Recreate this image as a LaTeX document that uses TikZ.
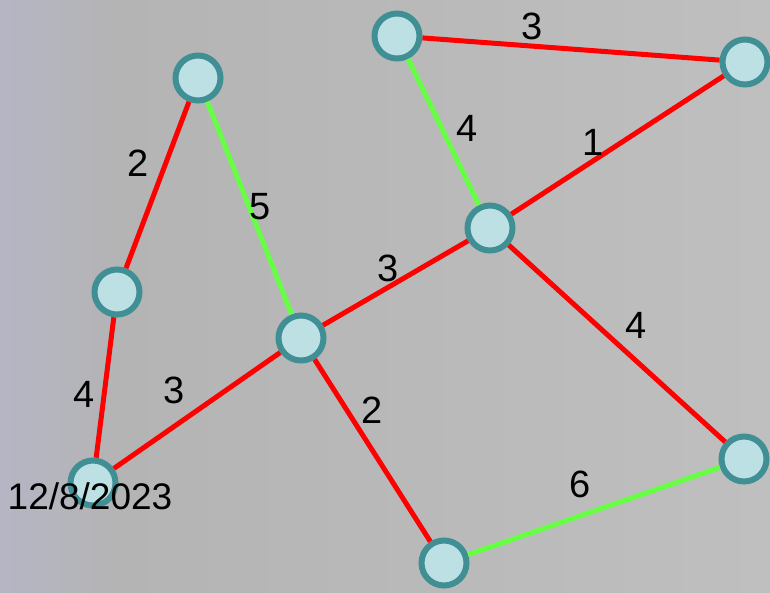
\documentclass[tikz,border=0pt]{standalone}
\usepackage{fontspec}
\setmainfont{Liberation Sans}
\definecolor{nfill}{RGB}{188,224,227}
\definecolor{nring}{RGB}{64,143,148}
\definecolor{ered}{RGB}{255,0,0}
\definecolor{egreen}{RGB}{102,255,68}
\definecolor{bgL}{RGB}{181,181,196}
\definecolor{bgM}{RGB}{180,180,181}
\definecolor{bgR}{RGB}{191,191,191}
\begin{document}
\begin{tikzpicture}[x=1pt,y=-1pt,
  vtx/.style={circle,minimum size=45pt,inner sep=0pt,line width=6pt,draw=nring,fill=nfill},
  redge/.style={draw=ered,line width=5pt},
  gedge/.style={draw=egreen,line width=5pt},
  wlab/.style={font=\fontsize{38}{42}\selectfont,inner sep=0pt,text=black}]
\shade[left color=bgM,right color=bgR] (119,0) rectangle (770,592);
\shade[left color=bgL,right color=bgM] (0,0) rectangle (120,592);
\useasboundingbox (0,0) rectangle (770,592);
\node[vtx] (A) at (198,78) {};
\node[vtx] (B) at (117,292) {};
\node[vtx] (C) at (93,483) {};
\node[vtx] (D) at (301,338) {};
\node[vtx] (E) at (397,36) {};
\node[vtx] (F) at (745,62) {};
\node[vtx] (G) at (490,228) {};
\node[vtx] (H) at (744,459) {};
\node[vtx] (I) at (444,563) {};
\draw[redge] (A) -- (B);
\draw[redge] (B) -- (C);
\draw[gedge] (A) -- (D);
\draw[redge] (C) -- (D);
\draw[redge] (D) -- (G);
\draw[redge] (D) -- (I);
\draw[redge] (E) -- (F);
\draw[gedge] (E) -- (G);
\draw[redge] (G) -- (F);
\draw[redge] (G) -- (H);
\draw[gedge] (I) -- (H);
\node[wlab] (l1) at (532,26) {3};
\node[wlab] (l2) at (593,142) {1};
\node[wlab] (l3) at (260,207) {5};
\node[wlab] (l4) at (580,484) {6};
\node[wlab] (l5) at (138,163) {2};
\node[wlab] (l6) at (84,394) {4};
\node[wlab] (l7) at (174,390) {3};
\node[wlab] (l8) at (388,268) {3};
\node[wlab] (l9) at (372,410) {2};
\node[wlab] (l10) at (467,128) {4};
\node[wlab] (l11) at (636,325) {4};
\node[font=\fontsize{37}{42}\selectfont,inner sep=0pt] (date) at (90,496) {12/8/2023};
\end{tikzpicture}
\end{document}
